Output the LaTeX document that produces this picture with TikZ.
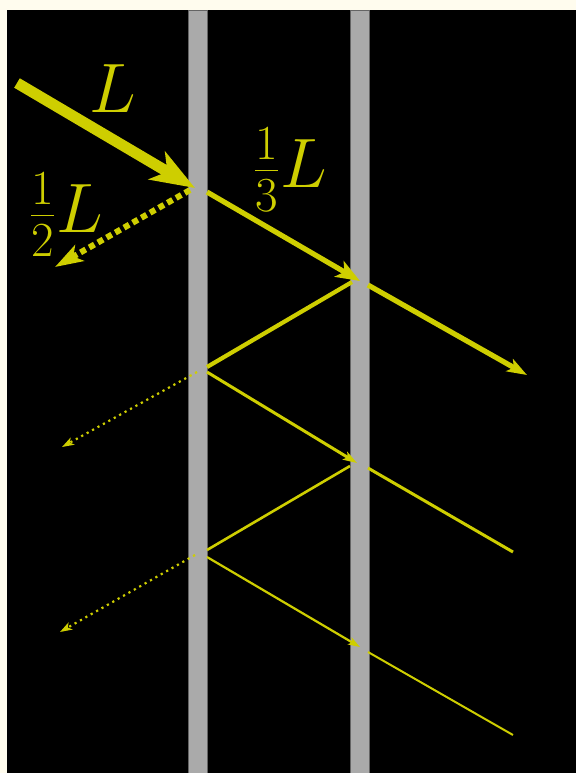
\RequirePackage{fix-cm}
\documentclass[tikz,border=0pt]{standalone}
\usepackage{tikz}
\usetikzlibrary{arrows.meta}

\definecolor{beamyellow}{RGB}{206,206,0}
\definecolor{plategray}{RGB}{170,170,170}
\definecolor{plateedge}{RGB}{100,100,100}
\definecolor{paper}{RGB}{255,252,238}

\tikzset{
  plate/.style={fill=plategray,draw=plateedge,line width=0.5pt},
  beam/.style={draw=beamyellow,line cap=butt},
  lbl/.style={text=beamyellow,inner sep=0pt,font=\fontsize{35}{40}\selectfont}
}

\begin{document}
\begin{tikzpicture}[x=0.5pt,y=-0.5pt]
\useasboundingbox (0,0) rectangle (576,773);
\fill[paper] (0,0) rectangle (576,773);
\fill[black] (7,10) rectangle (576,773);

% the two plates
\draw[plate] (188,10) rectangle (207,773);
\draw[plate] (350,10) rectangle (369,773);

% points where the light meets the plates
\coordinate (src) at (17,83);
\coordinate (hitA) at (195,188);
\coordinate (tA) at (207,192);
\coordinate (hitB) at (360,281);
\coordinate (outAs) at (368,285);
\coordinate (outAe) at (527,375);
\coordinate (refAs) at (190,190);
\coordinate (refAe) at (55,267);
\coordinate (backAs) at (352,282);
\coordinate (backAe) at (207,367);
\coordinate (leakBs) at (197,372);
\coordinate (leakBe) at (62,447);
\coordinate (fwdBs) at (207,372);
\coordinate (fwdBe) at (357,463);
\coordinate (outBs) at (368,468);
\coordinate (outBe) at (513,552);
\coordinate (backBs) at (350,466);
\coordinate (backBe) at (207,550);
\coordinate (leakCs) at (195,555);
\coordinate (leakCe) at (60,632);
\coordinate (fwdCs) at (207,557);
\coordinate (fwdCe) at (360,647);
\coordinate (outCs) at (368,652);
\coordinate (outCe) at (513,735);

% first pass
\draw[beam,line width=5.5pt,-{Stealth[length=22pt,width=16pt,inset=6pt]}] (src) -- (hitA);
\draw[beam,line width=2.6pt,-{Stealth[length=12pt,width=9pt,inset=3pt]}] (tA) -- (hitB);
\draw[beam,line width=2.6pt,-{Stealth[length=10pt,width=7pt,inset=2.5pt]}] (outAs) -- (outAe);
\draw[beam,line width=3pt,dotted,-{Stealth[length=14pt,width=9pt,inset=3.5pt]}] (refAs) -- (refAe);

% bouncing between the plates
\draw[beam,line width=2.1pt] (backAs) -- (backAe);
\draw[beam,line width=1.1pt,dotted,-{Stealth[length=6pt,width=4pt,inset=1.5pt]}] (leakBs) -- (leakBe);
\draw[beam,line width=1.5pt,-{Stealth[length=7pt,width=4.5pt,inset=1.5pt]}] (fwdBs) -- (fwdBe);
\draw[beam,line width=1.5pt] (outBs) -- (outBe);
\draw[beam,line width=1.3pt] (backBs) -- (backBe);
\draw[beam,line width=1.1pt,dotted,-{Stealth[length=6pt,width=4pt,inset=1.5pt]}] (leakCs) -- (leakCe);
\draw[beam,line width=1.1pt,-{Stealth[length=6pt,width=4pt,inset=1.5pt]}] (fwdCs) -- (fwdCe);
\draw[beam,line width=1pt] (outCs) -- (outCe);

\node[lbl] (lblL) at (113,89) {$L$};
\node[lbl] (lblhalf) at (66,215) {$\frac{1}{2}L$};
\node[lbl] (lblthird) at (290,170) {$\frac{1}{3}L$};
\end{tikzpicture}
\end{document}
